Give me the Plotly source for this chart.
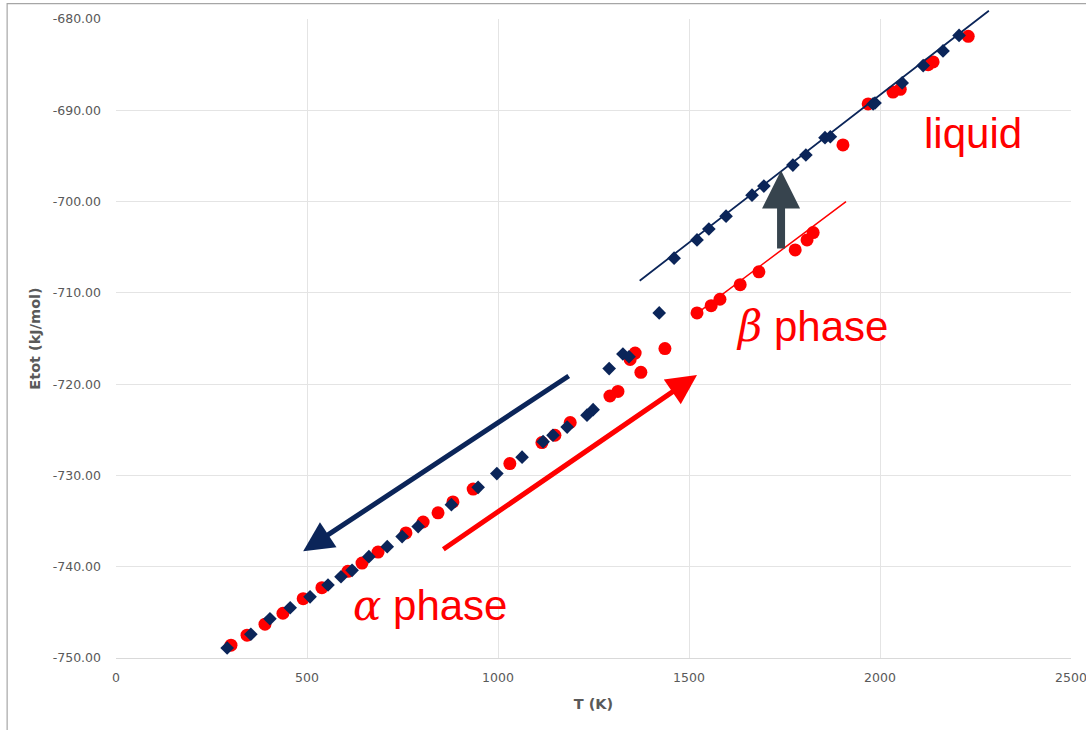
import plotly.graph_objects as go

# ---- data ----
heat_T = [301, 343, 390, 437, 490, 539, 607, 644, 686, 759, 804, 843, 882, 935,
          1031, 1115, 1149, 1189, 1293, 1314, 1346, 1359, 1374, 1437, 1521, 1558,
          1581, 1634, 1683, 1778, 1809, 1825, 1903, 1969, 2034, 2053, 2126, 2139, 2231]
heat_E = [-748.6, -747.5, -746.3, -745.1, -743.5, -742.3, -740.5, -739.6, -738.4,
          -736.3, -735.1, -734.1, -732.9, -731.5, -728.7, -726.4, -725.6, -724.2,
          -721.3, -720.8, -717.3, -716.6, -718.7, -716.1, -712.2, -711.4, -710.7,
          -709.1, -707.7, -705.3, -704.2, -703.4, -693.8, -689.3, -688.0, -687.7,
          -685.0, -684.7, -681.9]

cool_T = [291, 353, 403, 456, 508, 555, 589, 618, 662, 710, 749, 791, 878, 948,
          997, 1063, 1118, 1144, 1181, 1233, 1249, 1291, 1327, 1343, 1422, 1461,
          1521, 1552, 1597, 1665, 1696, 1772, 1806, 1856, 1870, 1982, 1987, 2058,
          2113, 2165, 2207]
cool_E = [-748.9, -747.4, -745.7, -744.5, -743.3, -742.0, -741.1, -740.4, -738.9,
          -737.8, -736.7, -735.6, -733.2, -731.3, -729.8, -728.0, -726.3, -725.6,
          -724.7, -723.4, -722.8, -718.3, -716.7, -717.0, -712.2, -706.2, -704.2,
          -703.0, -701.6, -699.3, -698.3, -696.0, -694.9, -693.0, -692.9, -689.3,
          -689.2, -687.0, -685.1, -683.5, -681.8]

# fit lines (T start, E start, T end, E end)
liquid_fit = [1367, -708.8, 2285, -679.1]
beta_fit = [1510, -712.6, 1911, -700.0]

# arrows (tail T, tail E, head T, head E)
cool_arrow = [1189, -719.0, 490, -738.3]
heat_arrow = [853, -738.2, 1521, -719.0]
jump_arrow = [1741, -705.3, 1741, -696.6]

# labels (T, E, text)
lbl_liquid = [2244, -692.5, "liquid"]
lbl_beta = [1822, -713.7, "β"]
lbl_alpha = [822, -744.2, "α"]

x_ticks = [0, 500, 1000, 1500, 2000, 2500]
x_ticktext = ["0", "500", "1000", "1500", "2000", "2500"]
y_ticks = [-750, -740, -730, -720, -710, -700, -690, -680]
y_ticktext = ["-750.00", "-740.00", "-730.00", "-720.00", "-710.00",
              "-700.00", "-690.00", "-680.00"]

RED = "#ff0000"
NAVY = "#0b2559"
GRAY_ARROW = "#37444e"
TXT = "#595959"

fig = go.Figure()
fig.add_trace(go.Scatter(x=heat_T, y=heat_E, mode="markers",
                         marker=dict(symbol="circle", size=13, color=RED),
                         cliponaxis=False, showlegend=False))
fig.add_trace(go.Scatter(x=cool_T, y=cool_E, mode="markers",
                         marker=dict(symbol="diamond", size=10.5, color=NAVY),
                         cliponaxis=False, showlegend=False))

annotations = []

def seg(p, color, width, head=0, size=1.0):
    annotations.append(dict(x=p[2], y=p[3], ax=p[0], ay=p[1], xref="x", yref="y",
                            axref="x", ayref="y", text="", showarrow=True,
                            arrowhead=head, arrowsize=size, arrowwidth=width,
                            arrowcolor=color, standoff=0, startstandoff=0))

seg(liquid_fit, NAVY, 1.8)
seg(beta_fit, RED, 1.5)
seg(cool_arrow, NAVY, 5, head=2, size=1.2)
seg(heat_arrow, RED, 5, head=2, size=1.2)
seg(jump_arrow, GRAY_ARROW, 8, head=2, size=0.95)

greek = "<span style='font-family:DejaVu Serif;font-style:italic'>{}</span> phase"
for lbl, txt in [(lbl_liquid, lbl_liquid[2]), (lbl_beta, greek.format(lbl_beta[2])),
                 (lbl_alpha, greek.format(lbl_alpha[2]))]:
    annotations.append(dict(x=lbl[0], y=lbl[1], xref="x", yref="y", text=txt,
                            showarrow=False,
                            font=dict(family="Liberation Sans, Arial", size=42, color=RED)))

fig.update_layout(
    width=1086, height=730,
    margin=dict(l=116, r=15, t=19, b=72, autoexpand=False),
    paper_bgcolor="white", plot_bgcolor="white",
    annotations=annotations,
    font=dict(family="DejaVu Sans, sans-serif", color=TXT),
    shapes=[dict(type="rect", xref="paper", yref="paper", x0=-0.114, x1=1.05,
                 y0=-0.13, y1=1.024, line=dict(color="#a6a6a6", width=1.2),
                 fillcolor="rgba(0,0,0,0)", layer="below")],
)
fig.update_xaxes(range=[0, 2500], tickvals=x_ticks, ticktext=x_ticktext,
                 automargin=False, ticklabeloverflow="allow",
                 showgrid=True, gridcolor="#e4e4e4", gridwidth=1,
                 zeroline=False, showline=True, linecolor="#d9d9d9", mirror=False,
                 ticks="", ticklabelstandoff=8,
                 tickfont=dict(size=12.5, color=TXT),
                 title=dict(text="<b>T (K)</b>", font=dict(size=14.5, color=TXT), standoff=14))
fig.update_yaxes(range=[-750, -680], tickvals=y_ticks, ticktext=y_ticktext,
                 automargin=False, ticklabeloverflow="allow",
                 showgrid=True, gridcolor="#e4e4e4", gridwidth=1,
                 zeroline=False, showline=False,
                 ticks="", ticklabelstandoff=14,
                 tickfont=dict(size=12.5, color=TXT),
                 title=dict(text="<b>Etot (kJ/mol)</b>", font=dict(size=14.5, color=TXT), standoff=8))

fig.write_html("out.html")
